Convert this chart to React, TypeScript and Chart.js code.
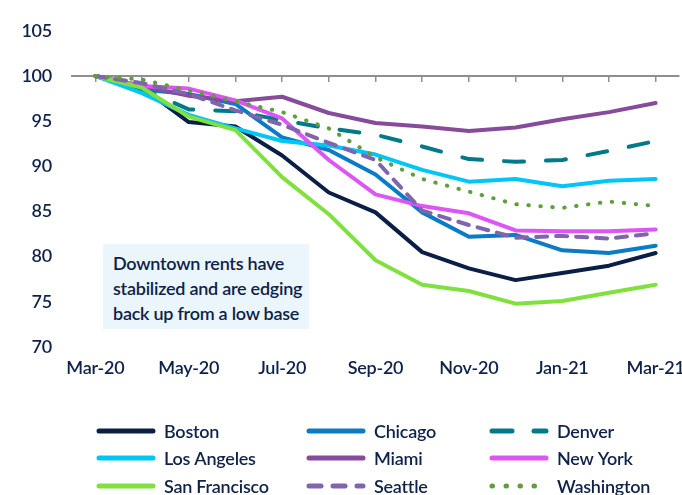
import React, { useEffect, useRef } from "react";
import { Chart, registerables } from "chart.js";

Chart.register(...registerables);

const labels = ["Mar-20", "Apr-20", "May-20", "Jun-20", "Jul-20", "Aug-20", "Sep-20", "Oct-20", "Nov-20", "Dec-20", "Jan-21", "Feb-21", "Mar-21"];

const boston = [100, 98.7, 94.9, 94.4, 91.2, 87.1, 84.9, 80.5, 78.7, 77.4, 78.2, 79.0, 80.4];
const chicago = [100, 98.5, 98.0, 96.9, 93.2, 91.8, 89.1, 84.9, 82.2, 82.4, 80.7, 80.4, 81.2];
const denver = [100, 98.6, 96.3, 96.1, 95.1, 94.2, 93.5, 92.2, 90.8, 90.5, 90.7, 91.7, 92.8];
const losAngeles = [100, 98.1, 95.7, 94.2, 92.8, 92.3, 91.3, 89.6, 88.3, 88.6, 87.8, 88.4, 88.6];
const miami = [100, 98.9, 97.8, 97.2, 97.7, 95.9, 94.8, 94.4, 93.9, 94.3, 95.2, 96.0, 97.0];
const newYork = [100, 98.9, 98.6, 97.3, 95.3, 90.7, 86.9, 85.6, 84.8, 82.9, 82.8, 82.8, 83.0];
const sanFrancisco = [100, 98.7, 95.5, 94.0, 88.8, 84.7, 79.6, 76.9, 76.2, 74.8, 75.1, 76.0, 76.9];
const seattle = [100, 99.2, 98.0, 96.2, 94.6, 92.6, 90.7, 85.1, 83.5, 82.1, 82.3, 82.0, 82.6];
const washington = [100, 99.6, 98.4, 97.2, 96.0, 94.2, 91.0, 88.6, 87.2, 85.8, 85.4, 86.1, 85.6];

const yTicks = [70, 75, 80, 85, 90, 95, 100, 105];
const annotationLines = ["Downtown rents have", "stabilized and are edging", "back up from a low base"];

const NAVY = "#0f2248";
const FONT = "Lato, 'Liberation Sans', sans-serif";
const FONT_SIZE = 18;
const FONT_WEIGHT = 600;
const LETTER_SPACING = "-0.25px";

// desired plot rectangle (layout only)
const TARGET_AREA = { left: 72, top: 26, right: 679, bottom: 347 };

const seriesDefs = [
  { label: "Boston", data: boston, color: "#0b1f45", dash: [] as number[], legendDash: [] as number[] },
  { label: "Chicago", data: chicago, color: "#0a7bc4", dash: [] as number[], legendDash: [] as number[] },
  { label: "Denver", data: denver, color: "#007a8a", dash: [20, 22], legendDash: [20, 22] },
  { label: "Los Angeles", data: losAngeles, color: "#00c6f7", dash: [] as number[], legendDash: [] as number[] },
  { label: "Miami", data: miami, color: "#874b9b", dash: [] as number[], legendDash: [] as number[] },
  { label: "New York", data: newYork, color: "#dd55f5", dash: [] as number[], legendDash: [] as number[] },
  { label: "San Francisco", data: sanFrancisco, color: "#80e03e", dash: [] as number[], legendDash: [] as number[] },
  { label: "Seattle", data: seattle, color: "#8064ad", dash: [11, 9], legendDash: [12, 12] },
  { label: "Washington", data: washington, color: "#5f9e3a", dash: [0.5, 11.5], legendDash: [0.5, 13.5] },
];

const LEGEND_COLS = [97, 307, 490];
const LEGEND_ROWS = [431, 458, 486];

const textStyle = {
  id: "textStyle",
  beforeDraw(chart: any) {
    (chart.ctx as any).letterSpacing = LETTER_SPACING;
  },
};

const gridLegend = {
  id: "gridLegend",
  afterDraw(chart: any) {
    const ctx = chart.ctx as CanvasRenderingContext2D;
    chart.data.datasets.forEach((ds: any, i: number) => {
      const x = LEGEND_COLS[i % 3];
      const y = LEGEND_ROWS[Math.floor(i / 3)];
      const def = seriesDefs[i];
      ctx.save();
      ctx.strokeStyle = ds.borderColor;
      ctx.lineWidth = 5;
      ctx.lineCap = "round";
      ctx.setLineDash(def.legendDash);
      ctx.beginPath();
      ctx.moveTo(x + 2, y);
      ctx.lineTo(x + 56, y);
      ctx.stroke();
      ctx.setLineDash([]);
      ctx.fillStyle = NAVY;
      ctx.font = `${FONT_WEIGHT} ${FONT_SIZE}px ${FONT}`;
      (ctx as any).letterSpacing = LETTER_SPACING;
      ctx.textBaseline = "middle";
      ctx.textAlign = "left";
      ctx.fillText(ds.label, x + 67, y + 1);
      ctx.restore();
    });
  },
};

export default function App() {
  const ref = useRef<HTMLCanvasElement | null>(null);

  useEffect(() => {
    if (!ref.current) return;
    const tickFont = { family: FONT, size: FONT_SIZE, weight: FONT_WEIGHT as any };
    const chart = new Chart(ref.current, {
      type: "line",
      data: {
        labels,
        datasets: seriesDefs.map((s, i) => ({
          label: s.label,
          data: s.data,
          borderColor: s.color,
          backgroundColor: s.color,
          borderWidth: 4,
          borderDash: s.dash,
          borderCapStyle: "round" as const,
          borderJoinStyle: "round" as const,
          pointRadius: 0,
          pointHoverRadius: 0,
          tension: 0,
          fill: false,
          order: seriesDefs.length - i,
        })),
      },
      options: {
        responsive: false,
        animation: false,
        devicePixelRatio: 1,
        layout: { padding: { top: 13, right: 21, bottom: 115, left: 0 } },
        plugins: {
          legend: { display: false },
          tooltip: { enabled: false },
        },
        scales: {
          x: {
            type: "category",
            offset: true,
            grid: { display: false, drawTicks: false },
            border: { display: false },
            ticks: {
              autoSkip: false,
              maxRotation: 0,
              padding: 10,
              color: NAVY,
              font: tickFont,
              callback: function (this: any, val: any, idx: number) {
                return idx % 2 === 0 ? this.getLabelForValue(val) : "";
              },
            },
            afterFit: (scale: any) => {
              scale.height = 31;
            },
          },
          x2: {
            type: "category",
            position: { y: 100 } as any,
            offset: true,
            grid: {
              display: true,
              drawOnChartArea: false,
              drawTicks: true,
              tickLength: 5,
              color: "#8f8f8f",
              lineWidth: 1.5,
            },
            border: { display: true, color: "#8f8f8f", width: 2 },
            ticks: { display: false },
          },
          y: {
            min: 70,
            max: 105,
            afterBuildTicks: (scale: any) => {
              scale.ticks = yTicks.map((v) => ({ value: v }));
            },
            grid: { display: false, drawTicks: false },
            border: { display: false },
            ticks: {
              padding: 20,
              color: NAVY,
              font: tickFont,
            },
            afterFit: (scale: any) => {
              scale.width = 72;
            },
          },
        },
      },
      plugins: [textStyle, gridLegend],
    });

    // nudge layout padding so the plot rectangle lands where the reference has it
    for (let k = 0; k < 2; k++) {
      const ca = chart.chartArea;
      const p: any = chart.options.layout!.padding;
      const dt = TARGET_AREA.top - ca.top;
      const db = ca.bottom - TARGET_AREA.bottom;
      const dr = ca.right - TARGET_AREA.right;
      if (Math.abs(dt) < 0.5 && Math.abs(db) < 0.5 && Math.abs(dr) < 0.5) break;
      p.top += dt;
      p.bottom += db;
      p.right += dr;
      chart.update();
    }

    return () => chart.destroy();
  }, []);

  return (
    <div
      style={{
        position: "fixed",
        left: 0,
        top: 0,
        width: 682,
        height: 495,
        overflow: "hidden",
        background: "#ffffff",
      }}
    >
      <canvas ref={ref} width={700} height={495} style={{ width: 700, height: 495, display: "block" }} />
      <div
        style={{
          position: "absolute",
          left: 103,
          top: 244,
          width: 206,
          height: 85,
          background: "#eaf6fc",
          boxSizing: "border-box",
          padding: "7px 0 0 10px",
          fontFamily: FONT,
          fontSize: FONT_SIZE,
          fontWeight: FONT_WEIGHT,
          letterSpacing: LETTER_SPACING,
          lineHeight: "25px",
          color: NAVY,
          whiteSpace: "nowrap",
        }}
      >
        {annotationLines.map((t) => (
          <div key={t}>{t}</div>
        ))}
      </div>
    </div>
  );
}
